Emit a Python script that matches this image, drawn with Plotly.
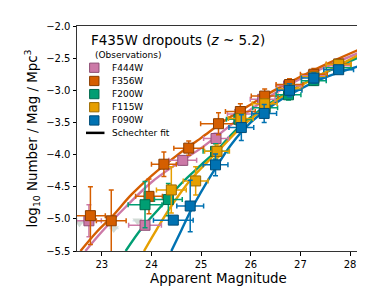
import plotly.graph_objects as go

# ---------------- data ----------------
filters = ["F444W", "F356W", "F200W", "F115W", "F090W"]
colors = {"F444W": "#CC79A7", "F356W": "#D55E00", "F200W": "#009E73",
          "F115W": "#E69F00", "F090W": "#0072B2"}
edges = {"F444W": "#8E4F75", "F356W": "#8A3D00", "F200W": "#006A4D",
         "F115W": "#9C6B00", "F090W": "#004C78"}

# observations
f444_x = [22.74, 23.87, 24.63, 25.30, 25.78, 26.24, 26.76, 27.26, 27.76]
f444_y = [-5.03, -5.10, -4.09, -3.75, -3.37, -3.14, -2.93, -2.77, -2.62]
f444_ey = [0.25, 0.06, 0.07, 0.08, 0.07, 0.07, 0.06, 0.06, 0.05]
f444_ex = [0.25, 0.33, 0.28, 0.25, 0.25, 0.25, 0.25, 0.25, 0.25]

f356_x = [22.77, 23.19, 23.95, 24.25, 24.75, 25.35, 25.79, 26.28, 26.78, 27.27, 27.77]
f356_y = [-4.95, -5.03, -4.65, -4.15, -3.90, -3.52, -3.33, -3.09, -2.91, -2.75, -2.59]
f356_ey = [0.45, 0.48, 0.27, 0.19, 0.11, 0.17, 0.12, 0.11, 0.09, 0.09, 0.07]
f356_ex = [0.3, 0.3, 0.27, 0.25, 0.3, 0.36, 0.3, 0.27, 0.27, 0.27, 0.25]

f200_x = [23.87, 24.34, 25.29, 25.76, 26.29, 26.76, 27.27, 27.77]
f200_y = [-4.78, -4.70, -3.95, -3.45, -3.27, -3.07, -2.85, -2.65]
f200_ey = [0.36, 0.25, 0.12, 0.08, 0.08, 0.08, 0.07, 0.06]
f200_ex = [0.34, 0.28, 0.25, 0.25, 0.25, 0.25, 0.25, 0.25]

f115_x = [24.40, 24.89, 25.32, 25.80, 26.28, 26.78, 27.27, 27.77]
f115_y = [-4.55, -4.41, -3.95, -3.44, -3.21, -2.98, -2.79, -2.60]
f115_ey = [0.36, 0.22, 0.1, 0.08, 0.07, 0.06, 0.06, 0.05]
f115_ex = [0.3, 0.25, 0.25, 0.25, 0.25, 0.25, 0.25, 0.25]

f090_x = [24.44, 24.78, 25.29, 25.81, 26.27, 26.78, 27.27, 27.77]
f090_y = [-5.02, -4.80, -4.16, -3.58, -3.36, -3.00, -2.81, -2.68]
f090_ey = [0.04, 0.40, 0.17, 0.2, 0.14, 0.1, 0.08, 0.06]
f090_ex = [0.4, 0.27, 0.25, 0.25, 0.25, 0.25, 0.25, 0.3]

# faint (low significance) points
faint_x = [22.55, 23.24, 23.72]
faint_y = [-5.06, -5.15, -5.03]

# Schechter fit curves
fit_f444_x = [22.67, 23.0, 23.5, 24.0, 24.5, 25.0, 25.5, 26.0, 26.5, 27.0, 27.5, 28.2]
fit_f444_y = [-5.5, -5.2, -4.8, -4.43, -4.15, -3.9, -3.6, -3.3, -3.04, -2.82, -2.64, -2.41]
fit_f356_x = [22.57, 22.9, 23.2, 23.6, 24.0, 24.5, 25.0, 25.5, 26.0, 26.5, 27.0, 27.5, 28.2]
fit_f356_y = [-5.5, -5.2, -4.97, -4.62, -4.33, -4.02, -3.74, -3.46, -3.22, -2.99, -2.79, -2.6, -2.36]
fit_f200_x = [23.48, 23.8, 24.2, 24.6, 25.0, 25.3, 25.7, 26.2, 26.7, 27.2, 27.7, 28.2]
fit_f200_y = [-5.5, -5.15, -4.8, -4.45, -4.16, -3.95, -3.62, -3.3, -3.05, -2.84, -2.65, -2.48]
fit_f115_x = [23.85, 24.1, 24.4, 24.8, 25.3, 25.8, 26.3, 26.8, 27.3, 27.8, 28.2]
fit_f115_y = [-5.5, -5.17, -4.8, -4.38, -3.98, -3.58, -3.27, -3.02, -2.8, -2.6, -2.44]
fit_f090_x = [24.40, 24.6, 24.8, 25.0, 25.3, 25.6, 26.0, 26.5, 27.0, 27.5, 28.2]
fit_f090_y = [-5.5, -5.18, -4.86, -4.58, -4.2, -3.85, -3.5, -3.2, -2.98, -2.8, -2.62]

x_ticks = [23, 24, 25, 26, 27, 28]
y_ticks = [-2.0, -2.5, -3.0, -3.5, -4.0, -4.5, -5.0, -5.5]

obs = {
    "F444W": (f444_x, f444_y, f444_ex, f444_ey),
    "F356W": (f356_x, f356_y, f356_ex, f356_ey),
    "F200W": (f200_x, f200_y, f200_ex, f200_ey),
    "F115W": (f115_x, f115_y, f115_ex, f115_ey),
    "F090W": (f090_x, f090_y, f090_ex, f090_ey),
}
fits = {
    "F444W": (fit_f444_x, fit_f444_y),
    "F356W": (fit_f356_x, fit_f356_y),
    "F200W": (fit_f200_x, fit_f200_y),
    "F115W": (fit_f115_x, fit_f115_y),
    "F090W": (fit_f090_x, fit_f090_y),
}

FONT = "DejaVu Sans"
fig = go.Figure()

# faint points
fig.add_trace(go.Scatter(
    x=faint_x, y=faint_y, mode="markers", showlegend=False, opacity=0.35,
    marker=dict(symbol="triangle-down", size=9, color="#7f9a8c"),
    error_x=dict(type="data", array=[0.3, 0.1, 0.1], color="#8fb8d8", thickness=1.5, width=0),
    hoverinfo="skip"))

# fit curves
for f in filters:
    fx, fy = fits[f]
    fig.add_trace(go.Scatter(x=fx, y=fy, mode="lines", showlegend=False,
                             line=dict(color=colors[f], width=2.4, shape="spline", smoothing=1.0)))

# observations
for f in filters:
    x, y, ex, ey = obs[f]
    fig.add_trace(go.Scatter(
        x=x, y=y, mode="markers", name=f, showlegend=False,
        marker=dict(symbol="square", size=10, color=colors[f],
                    line=dict(color=edges[f], width=1)),
        error_x=dict(type="data", array=ex, color=colors[f], thickness=1.5, width=2.5),
        error_y=dict(type="data", array=ey, color=colors[f], thickness=1.5, width=2.5)))

# ---------------- layout ----------------
W, H = 365, 292
L, R, T, B = 69, 12.7, 15, 49
pw, ph = W - L - R, H - T - B

def px2x(px):
    return (px - L) / pw

def py2y(py):
    return (H - B - py) / ph

shapes = []
annotations = []
annotations.append(dict(x=px2x(81), y=py2y(29), xref="paper", yref="paper",
                        text="F435W dropouts (<i>z</i> ~ 5.2)", showarrow=False,
                        xanchor="left", yanchor="middle",
                        font=dict(family=FONT, size=13.5, color="black")))
annotations.append(dict(x=px2x(85), y=py2y(44), xref="paper", yref="paper",
                        text="(Observations)", showarrow=False,
                        xanchor="left", yanchor="middle",
                        font=dict(family=FONT, size=9, color="black")))
rows = [57.3, 70.7, 84.0, 97.3, 110.7]
for f, ry in zip(filters, rows):
    shapes.append(dict(type="rect", xref="paper", yref="paper",
                       x0=px2x(86.3 - 4.7), x1=px2x(86.3 + 4.7),
                       y0=py2y(ry + 4.7), y1=py2y(ry - 4.7),
                       fillcolor=colors[f], line=dict(color=edges[f], width=1)))
    annotations.append(dict(x=px2x(102), y=py2y(ry), xref="paper", yref="paper",
                            text=f, showarrow=False, xanchor="left", yanchor="middle",
                            font=dict(family=FONT, size=9, color="black")))
shapes.append(dict(type="line", xref="paper", yref="paper",
                   x0=px2x(78), x1=px2x(96.5), y0=py2y(123.3), y1=py2y(123.3),
                   line=dict(color="black", width=2.5)))
annotations.append(dict(x=px2x(102), y=py2y(123.3), xref="paper", yref="paper",
                        text="Schechter fit", showarrow=False, xanchor="left", yanchor="middle",
                        font=dict(family=FONT, size=9, color="black")))

fig.update_layout(
    width=W, height=H,
    margin=dict(l=L, r=R, t=T, b=B, pad=0),
    paper_bgcolor="white", plot_bgcolor="white",
    font=dict(family=FONT, size=10, color="black"),
    shapes=shapes, annotations=annotations,
    showlegend=False,
)
fig.update_xaxes(range=[22.5, 28.2], tickvals=x_ticks, ticks="outside", ticklen=3.5,
                 tickwidth=1, tickcolor="black", showgrid=False, zeroline=False,
                 showline=True, linecolor="#333", linewidth=1, mirror=True,
                 tickfont=dict(family=FONT, size=10),
                 title=dict(text="Apparent Magnitude", standoff=5,
                            font=dict(family=FONT, size=13.4)))
fig.update_yaxes(range=[-5.5, -2.0], tickvals=y_ticks, tickformat=".1f", ticks="outside",
                 ticklen=3.5, tickwidth=1, tickcolor="black", showgrid=False, zeroline=False,
                 showline=True, linecolor="#333", linewidth=1, mirror=True,
                 tickfont=dict(family=FONT, size=10),
                 title=dict(text="log<sub>10</sub> Number / Mag / Mpc<sup>3</sup>", standoff=5,
                            font=dict(family=FONT, size=13.4)))

fig.write_html("out.html")
